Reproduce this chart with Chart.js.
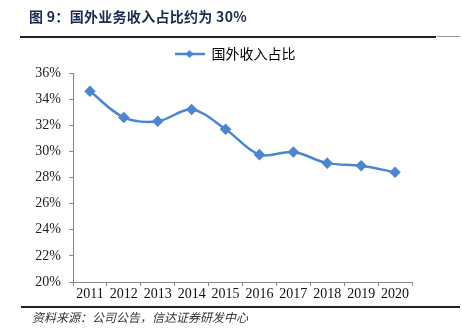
<!DOCTYPE html>
<html>
<head>
<meta charset="utf-8">
<script src="https://cdn.jsdelivr.net/npm/chart.js@4/dist/chart.umd.min.js"></script>
<style>
  html, body { margin: 0; padding: 0; background: #fff; }
  #wrap { position: relative; width: 462px; height: 336px; overflow: hidden; }
  #title { position: absolute; left: 29px; top: 6px; font-family: "Noto Sans CJK SC", sans-serif; font-weight: bold; font-size: 14px; color: #1c2a4f; white-space: nowrap; letter-spacing: 0.3px; }
  #topline { position: absolute; left: 20px; top: 36px; width: 416px; height: 2px; background: #222; }
  #topline2 { position: absolute; left: 437px; top: 36px; width: 23px; height: 1px; background: #999; }
  #botline { position: absolute; left: 21px; top: 306px; width: 439px; height: 2px; background: #222; }
  #source { position: absolute; left: 32px; top: 308px; font-family: "Noto Sans CJK SC", sans-serif; font-style: italic; font-size: 12px; color: #333; white-space: nowrap; }
  canvas { position: absolute; left: 0; top: 0; }
</style>
</head>
<body>
<div id="wrap">
  <canvas id="c" width="462" height="336"></canvas>
  <div id="title">图 9：国外业务收入占比约为 30%</div>
  <div id="topline"></div>
  <div id="topline2"></div>
  <div id="botline"></div>
  <div id="source">资料来源：公司公告，信达证券研发中心</div>
</div>
<script>
const categories = ['2011','2012','2013','2014','2015','2016','2017','2018','2019','2020'];
const seriesName = '国外收入占比';
const shareValues = [34.6, 32.6, 32.3, 33.2, 31.7, 29.75, 29.95, 29.1, 28.9, 28.4];
const yTicks = [20, 22, 24, 26, 28, 30, 32, 34, 36];

const lineColor = '#4a86d2';

// legend marker: line with diamond
const mk = document.createElement('canvas');
mk.width = 30; mk.height = 10;
(function(){
  const g = mk.getContext('2d');
  g.strokeStyle = lineColor; g.lineWidth = 2.5;
  g.beginPath(); g.moveTo(0,5); g.lineTo(30,5); g.stroke();
  g.fillStyle = lineColor;
  g.beginPath(); g.moveTo(15,1); g.lineTo(19,5); g.lineTo(15,9); g.lineTo(11,5); g.closePath(); g.fill();
})();

const legendShift = {
  id: 'legendShift',
  afterLayout(chart) {
    if (chart.legend) {
      chart.legend.left += 29; chart.legend.right += 29;
      chart.legend.top -= 2; chart.legend.bottom -= 2;
    }
  }
};

new Chart(document.getElementById('c'), {
  type: 'line',
  data: {
    labels: categories,
    datasets: [{
      label: seriesName,
      data: shareValues,
      borderColor: lineColor,
      backgroundColor: lineColor,
      borderWidth: 2.5,
      tension: 0.35,
      pointStyle: 'rectRot',
      pointRadius: 4,
      pointHoverRadius: 4,
      pointBackgroundColor: lineColor,
      pointBorderColor: lineColor,
      fill: false
    }]
  },
  plugins: [legendShift],
  options: {
    responsive: false,
    animation: false,
    devicePixelRatio: 1,
    layout: { padding: { left: 0, right: 50, top: 37, bottom: 34 } },
    plugins: {
      tooltip: { enabled: false },
      legend: {
        display: true,
        position: 'top',
        labels: {
          usePointStyle: true,
          pointStyleWidth: 30,
          boxHeight: 10,
          padding: 12,
          color: '#222',
          font: { family: '"Noto Sans CJK SC", sans-serif', size: 14 },
          generateLabels: (chart) => [{
            text: seriesName,
            pointStyle: mk,
            fillStyle: lineColor,
            strokeStyle: lineColor,
            lineWidth: 0,
            hidden: false,
            datasetIndex: 0
          }]
        }
      }
    },
    scales: {
      x: {
        offset: true,
        afterFit: (s) => { s.height = 20; },
        grid: { display: true, offset: true, drawOnChartArea: false, drawTicks: true, tickLength: 4, color: '#888' },
        border: { display: true, color: '#888', width: 1 },
        ticks: { color: '#111', padding: 0, maxRotation: 0, autoSkip: false, font: { family: '"Liberation Serif", serif', size: 14 } }
      },
      y: {
        min: yTicks[0],
        max: yTicks[yTicks.length - 1],
        afterFit: (s) => { s.width = 73; },
        afterBuildTicks: (s) => { s.ticks = yTicks.map(v => ({ value: v })); },
        grid: { display: true, drawOnChartArea: false, drawTicks: true, tickLength: 4, color: '#888' },
        border: { display: true, color: '#888', width: 1 },
        ticks: { color: '#222', padding: 8, callback: (v) => v + '%', font: { family: '"Liberation Serif", serif', size: 14 } }
      }
    }
  }
});
</script>
</body>
</html>
